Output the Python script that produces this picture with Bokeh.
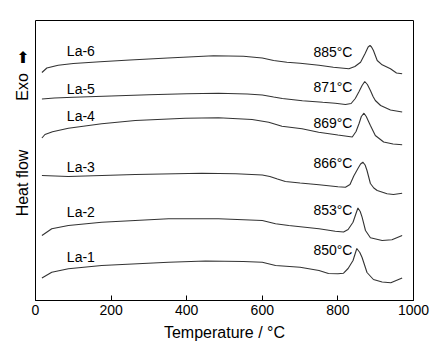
import math
from bokeh.plotting import figure
from bokeh.models import Range1d, FixedTicker
from bokeh.core.properties import value
from bokeh.embed import file_html
from bokeh.resources import INLINE

# Temperature (°C) and heat flow (a.u., curves offset vertically)
t_la1 = [17, 43, 87, 175, 352, 450, 550, 600, 635, 700, 750, 775, 800, 815, 827, 840, 850, 858, 864, 877, 894, 917, 940, 970]
hf_la1 = [22.5, 28.3, 31.7, 35, 38.3, 39.5, 39, 38.3, 35, 33.3, 30, 27, 26.7, 27.3, 32, 40, 52, 48, 43, 28, 21, 18.5, 17.7, 22.5]

t_la2 = [17, 43, 87, 175, 352, 484, 600, 635, 670, 750, 793, 815, 827, 840, 847, 853, 859, 864, 873, 886, 917, 943, 970]
hf_la2 = [65, 71.7, 75, 78.3, 81.7, 81.7, 80, 76.7, 75, 71.7, 69.3, 68.5, 71, 78.3, 86, 92.5, 89, 83.3, 70, 62.7, 60, 60.7, 65]

t_la3 = [17, 87, 264, 440, 530, 600, 620, 640, 661, 700, 750, 800, 820, 832, 842, 853, 860, 866, 872, 877, 886, 895, 904, 930, 947, 970]
hf_la3 = [125, 124, 126, 127.3, 126.8, 125.5, 124, 121.5, 119, 117.5, 115.7, 113.8, 113.3, 116, 124.5, 132, 136.5, 138.3, 135.5, 130, 117, 112.5, 110, 106.7, 106, 107.3]

t_la4 = [17, 25, 45, 87, 175, 264, 396, 484, 573, 617, 652, 705, 749, 800, 838, 848, 856, 862, 869, 875, 886, 899, 921, 946, 970]
hf_la4 = [162.5, 166, 168.8, 172.3, 176.7, 180, 182.3, 182.7, 181, 178.3, 174.3, 171.7, 168.3, 165.5, 163.5, 169, 177, 184, 187.3, 184, 175, 165, 158.5, 156.5, 155.7]

t_la5 = [17, 50, 100, 200, 300, 400, 484, 560, 600, 630, 653, 706, 760, 793, 820, 835, 846, 856, 864, 871, 878, 886, 893, 899, 913, 939, 970]
hf_la5 = [201.5, 202.5, 203.2, 204.5, 205.8, 206.7, 207.3, 206.5, 205.5, 203.5, 202, 199.7, 198.2, 197.3, 196, 197, 202, 209, 215, 219, 216, 210, 204, 200, 195, 190.5, 188.5]

t_la6 = [17, 30, 60, 100, 171, 250, 350, 471, 550, 600, 630, 665, 700, 750, 788, 829, 845, 860, 872, 880, 885, 889, 894, 904, 917, 939, 955, 970]
hf_la6 = [228, 232.5, 235.2, 237, 238.8, 240.5, 242.5, 244.8, 244.2, 242.5, 240, 238.3, 237.2, 235.2, 233.3, 231.7, 234, 238.3, 247, 253.5, 255, 253.5, 250, 240, 235.7, 231.7, 227.5, 226.7]

sample_names = ["La-1", "La-2", "La-3", "La-4", "La-5", "La-6"]
peak_labels = ["850°C", "853°C", "866°C", "869°C", "871°C", "885°C"]
x_ticks = [0, 200, 400, 600, 800, 1000]

FONT = "Liberation Sans"
NB = "\u00a0"

p = figure(width=432, height=355, output_backend="svg", toolbar_location=None,
           x_range=Range1d(0, 1000), y_range=Range1d(0, 280),
           min_border_left=35, min_border_right=19, min_border_top=20, min_border_bottom=55)
p.frame_width = 378
p.frame_height = 280

p.xgrid.visible = False
p.ygrid.visible = False
p.outline_line_color = "black"
p.outline_line_width = 1
p.background_fill_color = "white"
p.border_fill_color = "white"

xa = p.xaxis[0]
xa.ticker = FixedTicker(ticks=x_ticks)
xa.major_tick_in = 5
xa.major_tick_out = 0
xa.minor_tick_line_color = None
xa.axis_line_color = "black"
xa.major_tick_line_color = "black"
xa.major_label_text_font = FONT
xa.major_label_text_font_size = "14px"
xa.major_label_text_color = "black"
xa.major_label_standoff = 4
xa.axis_label = "Temperature / °C"
xa.axis_label_text_font = FONT
xa.axis_label_text_font_size = "16px"
xa.axis_label_text_font_style = "normal"
xa.axis_label_text_color = "black"
xa.axis_label_standoff = 6

ya = p.yaxis[0]
ya.ticker = FixedTicker(ticks=[])
ya.major_tick_in = 0
ya.major_tick_out = 0
ya.minor_tick_line_color = None
ya.major_tick_line_color = None
ya.axis_line_color = None
ya.major_label_standoff = 0
ya.axis_label = NB * 12 + "Heat flow" + NB * 11 + "Exo" + NB * 2 + "➡"
ya.axis_label_text_font = FONT
ya.axis_label_text_font_size = "16px"
ya.axis_label_text_font_style = "normal"
ya.axis_label_text_color = "black"
ya.axis_label_standoff = 5

curves = [(t_la1, hf_la1), (t_la2, hf_la2), (t_la3, hf_la3),
          (t_la4, hf_la4), (t_la5, hf_la5), (t_la6, hf_la6)]
for t, hf in curves:
    p.line(t, hf, line_color="#333333", line_width=1.1)

# sample name labels (left) and peak temperature labels (right)
name_y = [43.3, 88.3, 133.3, 185, 211.7, 250]
peak_y = [50.7, 90.7, 137.7, 177.3, 213.3, 248.3]
p.text(x=[83] * 6, y=name_y, text=sample_names, text_font=value(FONT),
       text_font_size="14px", text_color="black", text_baseline="middle", text_align="left")
p.text(x=[838.5] * 6, y=peak_y, text=peak_labels, text_font=value(FONT),
       text_font_size="14px", text_color="black", text_baseline="middle", text_align="right")

open("out.html", "w").write(file_html(p, INLINE))
